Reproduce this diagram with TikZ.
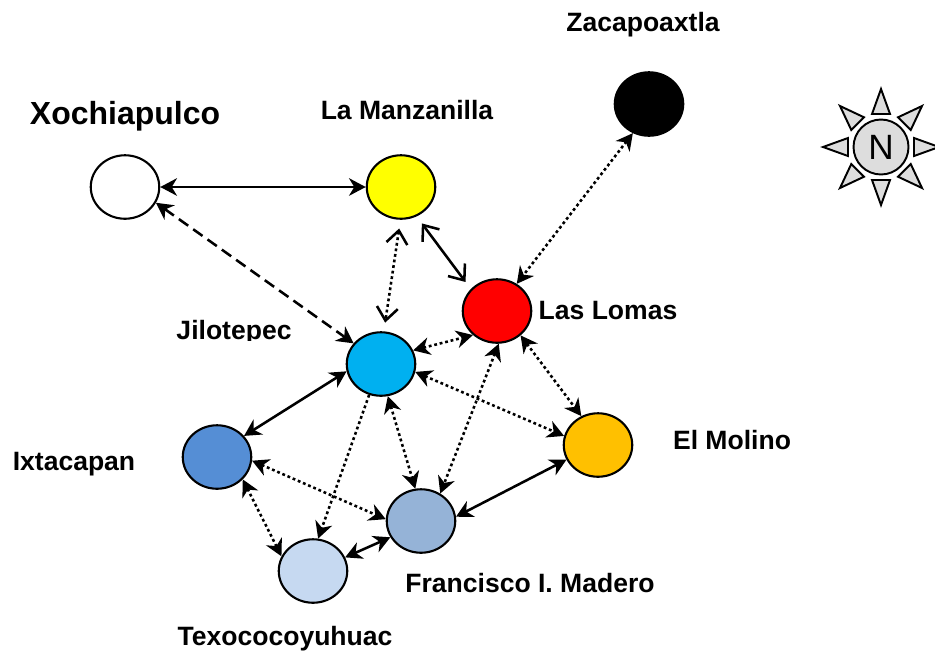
\documentclass[tikz,border=0pt]{standalone}
\usepackage{fontspec}
\setmainfont{Liberation Sans}
\usetikzlibrary{arrows.meta,shapes.geometric}
\definecolor{sunny}{HTML}{FFFF00}
\definecolor{molino}{HTML}{FFC000}
\definecolor{jilo}{HTML}{00B0F0}
\definecolor{ixta}{HTML}{558ED5}
\definecolor{madero}{HTML}{95B3D7}
\definecolor{texo}{HTML}{C6D9F1}
\definecolor{compass}{HTML}{DDDDDD}
\begin{document}
\begin{tikzpicture}[x=0.02cm, y=-0.02cm,
		village/.style={ellipse, draw=black, line width=1.2pt, minimum width=1.37cm, minimum height=1.27cm, inner sep=0pt},
		placename/.style={font=\bfseries\fontsize{15.1}{17}\selectfont, anchor=base, inner sep=0pt},
		link/.style={line width=1.45pt, {Stealth[length=9.5pt,width=10pt,inset=3pt]}-{Stealth[length=9.5pt,width=10pt,inset=3pt]}},
		dots/.style={link, dash pattern=on 1.6pt off 1.6pt},
		openlink/.style={line width=1.45pt, {Straight Barb[length=7.5pt,width=12pt,line width=1.45pt]}-{Straight Barb[length=7.5pt,width=12pt,line width=1.45pt]}, shorten <=5pt, shorten >=5pt},
		ray/.style={draw=black, fill=compass, line width=1.1pt}]
	\useasboundingbox (0,0) rectangle (935,650);

	\node[village, fill=white] (xoc) at (125,187) {};
	\node[village, fill=sunny] (man) at (401,187) {};
	\node[village, fill=black] (zac) at (649,104) {};
	\node[village, fill=red] (lom) at (497,311) {};
	\node[village, fill=jilo] (jil) at (381,364) {};
	\node[village, fill=molino] (mol) at (598,445) {};
	\node[village, fill=ixta] (ixt) at (217,457) {};
	\node[village, fill=madero] (mad) at (421,521) {};
	\node[village, fill=texo] (tex) at (313,571) {};

	\node[placename, font=\bfseries\fontsize{18.2}{20}\selectfont] (xoclab) at (125,124) {Xochiapulco};
	\node[placename] (manlab) at (407,119) {La Manzanilla};
	\node[placename] (zaclab) at (643,31) {Zacapoaxtla};
	\node[placename] (lomlab) at (608,319) {Las Lomas};
	\begin{scope}
		\clip (160,305) rectangle (320,340);
		\node[placename] (jillab) at (234,339) {Jilotepec};
	\end{scope}
	\node[placename] (mollab) at (732,449) {El Molino};
	\node[placename] (ixtlab) at (74,470) {Ixtacapan};
	\node[placename] (madlab) at (530,592) {Francisco I. Madero};
	\node[placename] (texlab) at (285,645) {Texococoyuhuac};

	\draw[link] (xoc.east) -- (man.west);
	\draw[link, dash pattern=on 6.5pt off 3.5pt] (xoc.-27) -- (jil.143);
	\draw[openlink, dash pattern=on 1.6pt off 1.6pt] (man.-91) -- (jil.85);
	\draw[openlink] (man.-62) -- (lom.140);
	\draw[dots] (zac.-119) -- (lom.54);
	\draw[dots] (jil.23) -- (lom.-135);
	\draw[dots] (jil.-13) -- (mol.165);
	\draw[link] (jil.-168) -- (ixt.38);
	\draw[dots] (jil.-78) -- (mad.100);
	\draw[dots, -{Stealth[length=9.5pt,width=10pt,inset=3pt]}] (jil.-111) -- (tex.81);
	\draw[dots] (lom.-87) -- (mad.55);
	\draw[dots] (lom.-46) -- (mol.120);
	\draw[link] (mol.-155) -- (mad.7);
	\draw[dots] (ixt.-6) -- (mad.177);
	\draw[dots] (ixt.-41) -- (tex.155);
	\draw[link] (tex.23) -- (mad.-152);

	% compass
	\node[circle, draw=black, fill=compass, line width=1.1pt, minimum size=1.1cm, inner sep=0pt, font=\fontsize{20}{22}\selectfont] (nor) at (881,147) {N};
	\foreach \ang in {0,45,...,315}
		\draw[ray, shift={(nor.center)}, rotate=\ang] (-9,-33) -- (9,-33) -- (0,-58) -- cycle;
\end{tikzpicture}
\end{document}
